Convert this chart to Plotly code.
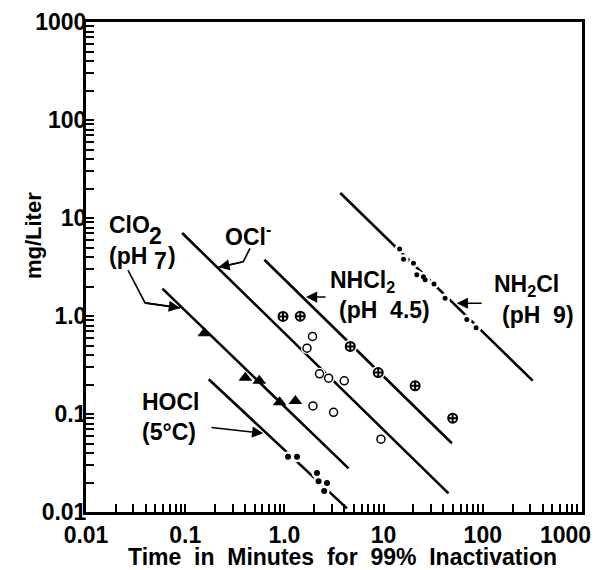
import math
import plotly.graph_objects as go

# ---------------- data ----------------
# Regression lines: endpoints (time in minutes, concentration mg/L)
clo2_line_t = [0.0589, 4.43]
clo2_line_c = [1.90, 0.0279]
ocl_line_t = [0.0931, 45.1]
ocl_line_c = [7.03, 0.0155]
nhcl2_line_t = [0.628, 48.8]
nhcl2_line_c = [3.75, 0.0503]
nh2cl_line_t = [3.66, 318.0]
nh2cl_line_c = [18.0, 0.219]
hocl_line_t = [0.1726, 4.27]
hocl_line_c = [0.2265, 0.0109]

# Data points
clo2_t = [0.156, 0.404, 0.558, 0.895, 1.29]
clo2_c = [0.668, 0.235, 0.218, 0.132, 0.136]

ocl_t = [1.92, 1.69, 2.26, 2.79, 4.01, 1.94, 3.13, 9.40]
ocl_c = [0.618, 0.470, 0.257, 0.232, 0.218, 0.121, 0.104, 0.0553]

nhcl2_t = [0.968, 1.445, 4.61, 8.83, 20.8, 49.7]
nhcl2_c = [0.989, 0.997, 0.489, 0.265, 0.194, 0.0906]

nh2cl_t = [14.5, 15.9, 20.0, 21.6, 25.2, 26.2, 32.2, 41.7, 69.0, 85.7]
nh2cl_c = [4.82, 3.79, 3.45, 2.64, 2.51, 2.34, 2.12, 1.52, 0.920, 0.757]

hocl_t = [1.087, 1.34, 2.13, 2.21, 2.69, 2.52]
hocl_c = [0.0367, 0.0367, 0.0250, 0.0206, 0.0198, 0.0164]

# Tick labels
tick_vals = [0.01, 0.1, 1, 10, 100, 1000]
x_tick_text = ["0.01", "0.1", "1.0", "10", "100", "1000"]
y_tick_text = ["0.01", "0.1", "1.0", "10", "100", "1000"]

# Label leader lines (data units)
clo2_leader_t = [0.0265, 0.0394]
clo2_leader_c = [2.94, 1.36]
clo2_tip = (0.0887, 1.21)
ocl_leader_t = [0.450, 0.385]
ocl_leader_c = [4.91, 3.58]
ocl_tip = (0.216, 3.14)
nhcl2_tail, nhcl2_tip = (2.69, 1.56), (1.65, 1.56)
nh2cl_tail, nh2cl_tip = (101.0, 1.35), (54.6, 1.35)
hocl_tail, hocl_tip = (0.178, 0.0731), (0.612, 0.0636)

FONT = "Liberation Sans"
BLACK = "black"

fig = go.Figure()

# lines
for t, c in [(clo2_line_t, clo2_line_c), (ocl_line_t, ocl_line_c),
             (nhcl2_line_t, nhcl2_line_c), (nh2cl_line_t, nh2cl_line_c),
             (hocl_line_t, hocl_line_c)]:
    fig.add_trace(go.Scatter(x=t, y=c, mode="lines",
                             line=dict(color=BLACK, width=2.6), hoverinfo="skip"))

# leader lines for labels
for t, c, tip in [(clo2_leader_t, clo2_leader_c, clo2_tip),
                  (ocl_leader_t, ocl_leader_c, ocl_tip)]:
    fig.add_trace(go.Scatter(x=t + [tip[0]], y=c + [tip[1]], mode="lines",
                             line=dict(color=BLACK, width=1.6), hoverinfo="skip"))

# white halos that open small gaps in the lines around the points
for t, c, s in [(ocl_t, ocl_c, 12), (nhcl2_t, nhcl2_c, 14),
                (nh2cl_t, nh2cl_c, 10), (hocl_t, hocl_c, 11)]:
    fig.add_trace(go.Scatter(x=t, y=c, mode="markers",
                             marker=dict(symbol="circle", size=s, color="white",
                                         line=dict(width=0)), hoverinfo="skip"))

# markers
fig.add_trace(go.Scatter(x=clo2_t, y=clo2_c, mode="markers",
                         marker=dict(symbol="triangle-up", size=12, color=BLACK,
                                     line=dict(width=0))))
fig.add_trace(go.Scatter(x=ocl_t, y=ocl_c, mode="markers",
                         marker=dict(symbol="circle", size=8, color="white",
                                     line=dict(color=BLACK, width=1.5))))
fig.add_trace(go.Scatter(x=nhcl2_t, y=nhcl2_c, mode="markers",
                         marker=dict(symbol="circle-cross", size=9, color="white",
                                     line=dict(color=BLACK, width=2))))
fig.add_trace(go.Scatter(x=nh2cl_t, y=nh2cl_c, mode="markers",
                         marker=dict(symbol="circle", size=5, color=BLACK,
                                     line=dict(width=0))))
fig.add_trace(go.Scatter(x=hocl_t, y=hocl_c, mode="markers",
                         marker=dict(symbol="circle", size=6, color=BLACK,
                                     line=dict(width=0))))

# all tick positions (decades + 2..9 sub-ticks); only decades carry labels
all_ticks = []
for e in range(-2, 3):
    for k in range(1, 10):
        all_ticks.append(k * 10 ** e)
all_ticks.append(1000)


def labels_for(texts, skip_last=False):
    out = []
    for v in all_ticks:
        if v in tick_vals and not (skip_last and v == tick_vals[-1]):
            out.append(texts[tick_vals.index(v)])
        else:
            out.append("")
    return out


tick_font = dict(family=FONT, size=23, color=BLACK, weight="bold")
axis_common = dict(
    type="log", range=[-2, 3], tickmode="array", tickvals=all_ticks,
    ticks="inside", ticklen=8, tickwidth=2, tickcolor=BLACK,
    showline=True, linewidth=3, linecolor=BLACK, mirror=True,
    showgrid=False, zeroline=False, automargin=False,
    tickfont=tick_font,
)
# the last x label ("1000") is drawn separately, pulled in from the page edge
fig.update_xaxes(**axis_common, ticktext=labels_for(x_tick_text, skip_last=True),
                 ticklabelstandoff=0)
fig.update_yaxes(**axis_common, ticktext=labels_for(y_tick_text), ticklabelstandoff=-8)
fig.add_annotation(x=0.966, y=-0.046, xref="paper", yref="paper",
                   text=x_tick_text[-1], showarrow=False,
                   xanchor="center", yanchor="middle", font=tick_font)

L = math.log10


def text(x, y, s, size=23):
    fig.add_annotation(x=x, y=y, xref="x", yref="y", text=s, showarrow=False,
                       xanchor="left", yanchor="middle",
                       font=dict(family=FONT, size=size, color=BLACK, weight="bold"))


def arrow(tail, tip):
    fig.add_annotation(x=L(tip[0]), y=L(tip[1]), ax=L(tail[0]), ay=L(tail[1]),
                       xref="x", yref="y", axref="x", ayref="y", text="",
                       showarrow=True, arrowhead=2, arrowsize=1.4, arrowwidth=1.6,
                       arrowcolor=BLACK, standoff=0)


# ClO2 (pH 7)
text(-1.788, 0.929, "ClO")
text(-1.385, 0.816, "2")
text(-1.788, 0.612, "(pH")
text(-1.335, 0.561, "7")
text(-1.194, 0.612, ")")
arrow((clo2_leader_t[-1], clo2_leader_c[-1]), clo2_tip)

# OCl-
text(-0.619, 0.827, "OCl<sup>-</sup>")
arrow((ocl_leader_t[-1], ocl_leader_c[-1]), ocl_tip)

# NHCl2 (pH 4.5)
text(0.440, 0.357, "NHCl<sub>2</sub>")
text(0.530, 0.061, "(pH  4.5)")
arrow(nhcl2_tail, nhcl2_tip)

# NH2Cl (pH 9)
text(2.093, 0.316, "NH<sub>2</sub>Cl")
text(2.173, 0.010, "(pH  9)")
arrow(nh2cl_tail, nh2cl_tip)

# HOCl (5°C)
text(-1.456, -0.878, "HOCl")
text(-1.456, -1.184, "(5°C)")
arrow(hocl_tail, hocl_tip)

# axis titles
fig.add_annotation(x=0.518, y=-0.091, xref="paper", yref="paper",
                   text="Time  in  Minutes  for  99%  Inactivation",
                   showarrow=False, xanchor="center", yanchor="middle",
                   font=dict(family=FONT, size=23, color=BLACK, weight="bold"))
fig.add_annotation(x=-0.107, y=0.565, xref="paper", yref="paper",
                   text="mg/Liter", textangle=-90,
                   showarrow=False, xanchor="center", yanchor="middle",
                   font=dict(family=FONT, size=22, color=BLACK, weight="bold"))

# page body adds an 8px offset, so the figure margins are shifted by 8px
fig.update_layout(width=600, height=570,
                  margin=dict(l=78, r=26, t=14, b=66),
                  plot_bgcolor="white", paper_bgcolor="white",
                  showlegend=False)

fig.write_html("out.html")
